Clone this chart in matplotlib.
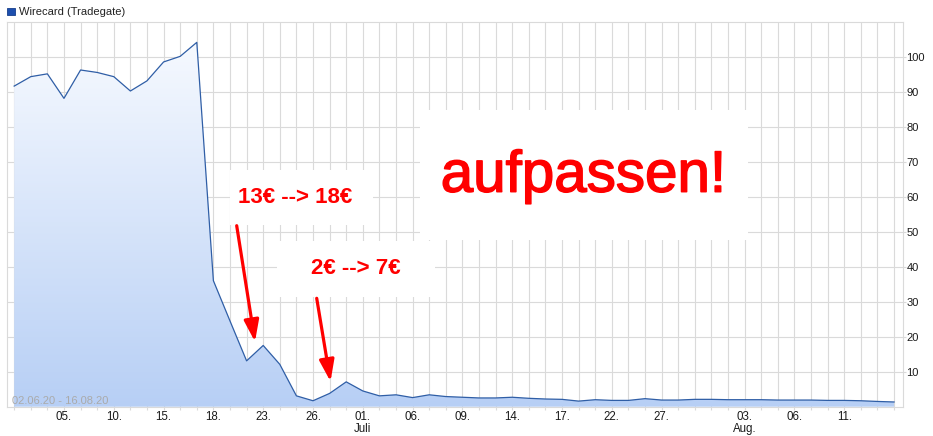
import numpy as np
import matplotlib
matplotlib.use("Agg")
import matplotlib.pyplot as plt
import matplotlib.patheffects as pe
from matplotlib.patches import Rectangle
from matplotlib.colors import LinearSegmentedColormap

plt.rcParams['font.family'] = ['Liberation Sans', 'DejaVu Sans']

# ---- data (trading days 02.06.20 - 14.08.20) ----
dates = ["02.06", "03.06", "04.06", "05.06", "08.06", "09.06", "10.06", "11.06", "12.06",
         "15.06", "16.06", "17.06", "18.06", "19.06", "22.06", "23.06", "24.06", "25.06",
         "26.06", "29.06", "30.06", "01.07", "02.07", "03.07", "06.07", "07.07", "08.07",
         "09.07", "10.07", "13.07", "14.07", "15.07", "16.07", "17.07", "20.07", "21.07",
         "22.07", "23.07", "24.07", "27.07", "28.07", "29.07", "30.07", "31.07", "03.08",
         "04.08", "05.08", "06.08", "07.08", "10.08", "11.08", "12.08", "13.08", "14.08"]
prices = [91.6, 94.3, 95.1, 88.1, 96.2, 95.5, 94.3, 90.2, 93.1,
          98.5, 100.1, 104.1, 36.0, 24.5, 13.1, 17.5, 12.1, 3.1,
          1.7, 3.8, 7.1, 4.5, 3.1, 3.4, 2.6, 3.4, 2.9,
          2.7, 2.5, 2.5, 2.7, 2.4, 2.2, 2.1, 1.6, 2.0,
          1.8, 1.8, 2.3, 1.9, 1.9, 2.1, 2.1, 2.0, 2.0,
          2.0, 1.9, 1.9, 1.9, 1.8, 1.8, 1.7, 1.5, 1.35]
tick_dates = ["05.06", "10.06", "15.06", "18.06", "23.06", "26.06", "01.07", "06.07",
              "09.07", "14.07", "17.07", "22.07", "27.07", "03.08", "06.08", "11.08"]
tick_labels = ["05.", "10.", "15.", "18.", "23.", "26.", "01.\nJuli", "06.",
               "09.", "14.", "17.", "22.", "27.", "03.\nAug.", "06.", "11."]
y_ticks = [10, 20, 30, 40, 50, 60, 70, 80, 90, 100]
series_name = "Wirecard (Tradegate)"
range_text = "02.06.20 - 16.08.20"

W, H = 933, 436
fig = plt.figure(figsize=(W / 100, H / 100), dpi=100)
fig.patch.set_facecolor('white')

left_px, right_px, top_px, bot_px = 6.7, 902.7, 21.7, 406.7
ax = fig.add_axes([left_px / W, 1 - bot_px / H, (right_px - left_px) / W, (bot_px - top_px) / H])

x = np.arange(len(prices))
xlim = (-0.45, 53.52)
ylim = (0, 110)
ax.set_xlim(*xlim)
ax.set_ylim(*ylim)

grid_c = '#dadada'
ax.set_axisbelow(True)
ax.set_xticks(x)
pos = {d: i for i, d in enumerate(dates)}
labels = [''] * len(x)
for d, l in zip(tick_dates, tick_labels):
    labels[pos[d]] = l
ax.set_xticklabels(labels, fontsize=8.3, color='#1a1a1a', linespacing=1.0)
ax.yaxis.tick_right()
ax.set_yticks(y_ticks)
ax.set_yticklabels([str(v) for v in y_ticks], fontsize=8, color='#1a1a1a')
ax.tick_params(axis='x', length=2.2, pad=1.2, color=grid_c, width=0.8)
ax.tick_params(axis='y', length=2.2, pad=0.6, color=grid_c, width=0.8)
ax.grid(True, color=grid_c, lw=0.8)
for s in ax.spines.values():
    s.set_color(grid_c)
    s.set_linewidth(0.8)

# gradient area fill
poly = ax.fill_between(x, prices, 0, color='none', lw=0)
cmap = LinearSegmentedColormap.from_list('g', ['#b7cff5', '#f7faff'])
grad = np.linspace(0, 1, 256).reshape(-1, 1)
im = ax.imshow(grad, cmap=cmap, aspect='auto', origin='lower',
               extent=(xlim[0], xlim[1], 0, 106), zorder=1.1)
path = poly.get_paths()[0]
im.set_clip_path(path, transform=ax.transData)
ax.set_xlim(*xlim)
ax.set_ylim(*ylim)
ax.plot(x, prices, color='#2f5ea6', lw=0.9, zorder=3)

# white annotation boxes (pixel -> data helpers)
def dx(px):
    return (px - 14.2) / 16.6

def dy(py):
    return (406.7 - py) / 3.5

def box(x0, x1, y0, y1):
    ax.add_patch(Rectangle((dx(x0), dy(y1)), dx(x1) - dx(x0), dy(y0) - dy(y1),
                           fc='white', ec='none', zorder=1.5))

box(230, 373, 170, 225)
box(277, 435, 241, 297)
box(420, 748, 110, 240)

red = '#ff0000'
ax.text(dx(295), dy(197), "13€ --> 18€", color=red, fontsize=16, fontweight='bold',
        ha='center', va='center', zorder=4)
ax.text(dx(356), dy(268), "2€ --> 7€", color=red, fontsize=16, fontweight='bold',
        ha='center', va='center', zorder=4)
ax.text(dx(583.5), dy(191.7), "aufpassen!", color=red, fontsize=42,
        ha='center', va='baseline', zorder=4,
        path_effects=[pe.withStroke(linewidth=1.1, foreground=red)])

arrow_kw = dict(arrowstyle='-|>,head_length=1.3,head_width=0.45', color=red, lw=2.3,
                shrinkA=0, shrinkB=0)
ax.annotate('', xy=(dx(255), dy(341.7)), xytext=(dx(236.7), dy(225.7)),
            arrowprops=arrow_kw, zorder=4)
ax.annotate('', xy=(dx(330.5), dy(381.5)), xytext=(dx(316.7), dy(298.3)),
            arrowprops=arrow_kw, zorder=4)

ax.text(dx(11.7), dy(404.0), range_text, color='#aaaaaa', fontsize=8,
        ha='left', va='baseline', zorder=4)

# legend
fig.add_artist(Rectangle((7.5 / W, 1 - 15.3 / H), 7.5 / W, 7.0 / H, transform=fig.transFigure,
                         fc='#1d4fae', ec='#163f8c', lw=0.6))
fig.text(19 / W, 1 - 11.8 / H, series_name, fontsize=8, color='#222222', va='center', ha='left')

fig.savefig('out.png', dpi=100, facecolor='white')
